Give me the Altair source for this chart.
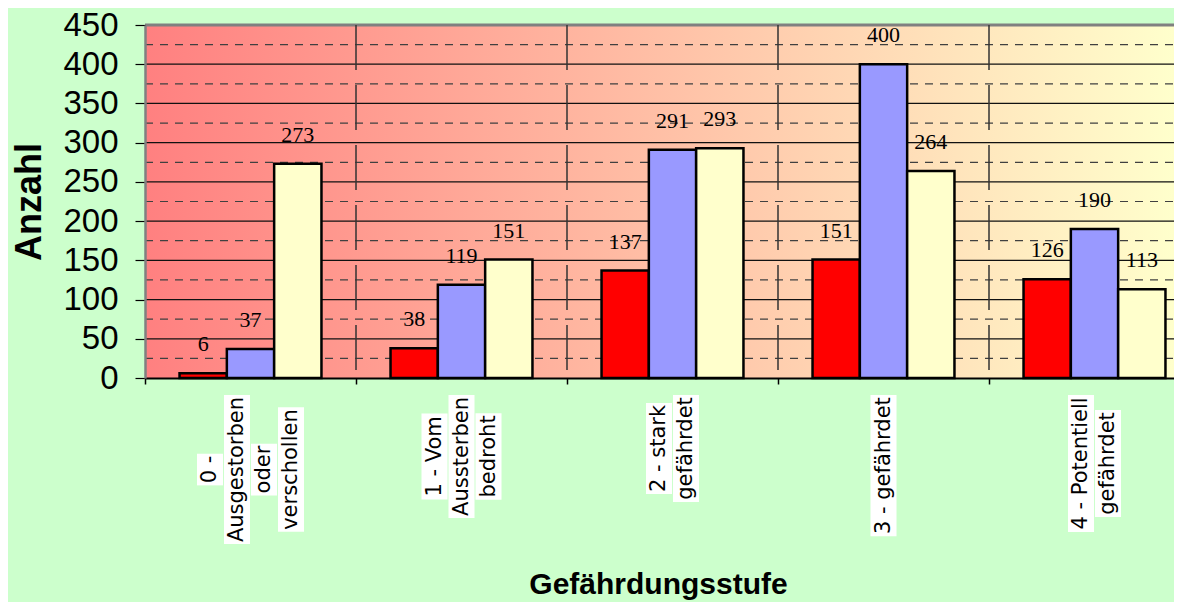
import altair as alt
import pandas as pd

# ---------------- data ----------------
categories = [
    "0 - Ausgestorben oder verschollen",
    "1 - Vom Aussterben bedroht",
    "2 - stark gefährdet",
    "3 - gefährdet",
    "4 - Potentiell gefährdet",
]
category_lines = [
    ["0 -", "Ausgestorben", "oder", "verschollen"],
    ["1 - Vom", "Aussterben", "bedroht"],
    ["2 - stark", "gefährdet"],
    ["3 - gefährdet"],
    ["4 - Potentiell", "gefährdet"],
]
series = ["Reihe 1", "Reihe 2", "Reihe 3"]
values_1 = [6, 38, 137, 151, 126]
values_2 = [37, 119, 291, 400, 190]
values_3 = [273, 151, 293, 264, 113]
y_ticks = [0, 50, 100, 150, 200, 250, 300, 350, 400, 450]
major_grid = [50, 100, 150, 200, 250, 300, 350, 400]
minor_grid = [25, 75, 125, 175, 225, 275, 325, 375, 425]

# ---------------- layout ----------------
W, H = 1029, 353
PX = H / 450.0          # pixels per data unit
LABEL_FS = 21
LABEL_GAP = 17

dejavu = {' ': .318, '-': .361, 'A': .684, 'P': .603, 'V': .684, 'a': .613, 'ä': .613,
          'b': .635, 'c': .550, 'd': .635, 'e': .615, 'f': .352, 'g': .635, 'h': .634,
          'i': .278, 'k': .579, 'l': .278, 'm': .974, 'n': .634, 'o': .612, 'r': .411,
          's': .521, 't': .392, 'u': .634, 'v': .592}


def text_len(t):
    return sum(dejavu.get(ch, .636) for ch in t) * LABEL_FS + 4


bar_rows = []
for s, vals in zip(series, [values_1, values_2, values_3]):
    for c, v in zip(categories, vals):
        bar_rows.append({"cat": c, "series": s, "value": v})
bars_df = pd.DataFrame(bar_rows)

lab_rows = []
for cat, lines in zip(categories, category_lines):
    lens = [text_len(t) for t in lines]
    mx = max(lens)
    n = len(lines)
    centre = LABEL_GAP + mx / 2
    for i, (t, L) in enumerate(zip(lines, lens)):
        lab_rows.append({
            "cat": cat, "text": t, "off": i - (n - 1) / 2,
            "yc": -centre / PX,
            "y0": -(centre - L / 2) / PX,
            "y1": -(centre + L / 2) / PX,
        })
lab_df = pd.DataFrame(lab_rows)

# ---------------- scales / axes ----------------
xscale = alt.Scale(domain=categories, range=[0, 1055], paddingInner=0, paddingOuter=0)
yscale = alt.Scale(domain=[0, 450], nice=False, zero=True)

xaxis = alt.Axis(title="Gefährdungsstufe", labels=False, ticks=True, tickSize=6,
                 tickColor="black", tickWidth=1.5, tickBand="extent",
                 domainColor="black", domainWidth=2, grid=False,
                 titleFont="Liberation Sans", titleFontSize=30, titleFontWeight="bold",
                 titleColor="black", titleX=513, titleY=215, titleBaseline="alphabetic",
                 titleAlign="center", zindex=1, orient="bottom")
yaxis = alt.Axis(title="Anzahl", values=y_ticks, grid=False,
                 domainColor="#808080", domainWidth=2.5,
                 tickColor="black", tickSize=10, tickWidth=1.2,
                 labelFont="Liberation Sans", labelFontSize=33,
                 labelColor="black", labelPadding=17,
                 titleFont="Liberation Sans", titleFontSize=36, titleFontWeight="bold",
                 titleColor="black", titleX=-116, titleAngle=270, titleBaseline="middle",
                 titleAlign="center", zindex=1)

X = alt.X("cat:N", scale=xscale, axis=xaxis)
Y = alt.Y("value:Q", scale=yscale, axis=yaxis)

one = pd.DataFrame({"a": [0]})

gradient = alt.Gradient(
    gradient="linear",
    stops=[alt.GradientStop(color="#FF8080", offset=0),
           alt.GradientStop(color="#FFFFCC", offset=1)],
    x1=0, x2=1, y1=0, y2=0,
)

bg = alt.Chart(one).mark_rect(color=gradient, strokeWidth=0).encode(
    x=alt.value(0), x2=alt.value("width"), y=alt.value(0), y2=alt.value("height")
)

minor = alt.Chart(pd.DataFrame({"value": minor_grid})).mark_rule(
    color="#404040", strokeWidth=1.2, strokeDash=[8, 7]
).encode(y=Y, x=alt.value(0), x2=alt.value("width"))

major = alt.Chart(pd.DataFrame({"value": major_grid})).mark_rule(
    color="#111111", strokeWidth=1.2
).encode(y=Y, x=alt.value(0), x2=alt.value("width"))

top = alt.Chart(pd.DataFrame({"value": [450]})).mark_rule(
    color="#808080", strokeWidth=3
).encode(y=Y, x=alt.value(0), x2=alt.value("width"))

vsep = alt.Chart(pd.DataFrame({"cat": categories[1:]})).mark_rule(
    color="#333333", strokeWidth=1.5, strokeDash=[45, 15]
).encode(x=alt.X("cat:N", scale=xscale, axis=xaxis, bandPosition=0),
         y=alt.value(0), y2=alt.value("height"))

bar_base = alt.Chart(bars_df).encode(
    x=X,
    xOffset=alt.XOffset("series:N", scale=alt.Scale(domain=series, paddingInner=0, paddingOuter=0.73)),
    y=Y,
)
bars = bar_base.mark_bar(stroke="black", strokeWidth=2.5).encode(
    color=alt.Color("series:N", scale=alt.Scale(domain=series, range=["#FF0000", "#9999FF", "#FFFFCC"]),
                    legend=None)
)
bar_text = bar_base.mark_text(dy=-29, font="Liberation Serif", fontSize=22,
                              baseline="middle", align="center", color="black").encode(
    text="value:Q"
)
bar_layer = alt.layer(bars, bar_text)

lab_base = alt.Chart(lab_df).encode(
    x=X,
    xOffset=alt.XOffset("off:Q", scale=alt.Scale(domain=[-2, 2], range=[51.5, 159.5])),
)
boxes = lab_base.mark_rule(color="white", strokeWidth=26, strokeCap="butt").encode(
    y=alt.Y("y0:Q", scale=yscale, axis=yaxis), y2="y1:Q"
)
lab_text = lab_base.mark_text(angle=270, align="center", baseline="middle",
                              font="DejaVu Sans", fontSize=LABEL_FS, color="black").encode(
    y=alt.Y("yc:Q", scale=yscale, axis=yaxis), text="text:N"
)
lab_layer = alt.layer(boxes, lab_text)

chart = alt.layer(bg, minor, major, top, vsep, bar_layer, lab_layer).resolve_scale(
    xOffset="independent"
).properties(
    width=W, height=H,
    autosize=alt.AutoSizeParams(type="none"),
    padding={"left": 137, "top": 17, "right": 0, "bottom": 224},
    background="#CCFFCC",
).configure_view(stroke=None)

chart.save("out.html", embed_options={"renderer": "svg", "actions": False})
